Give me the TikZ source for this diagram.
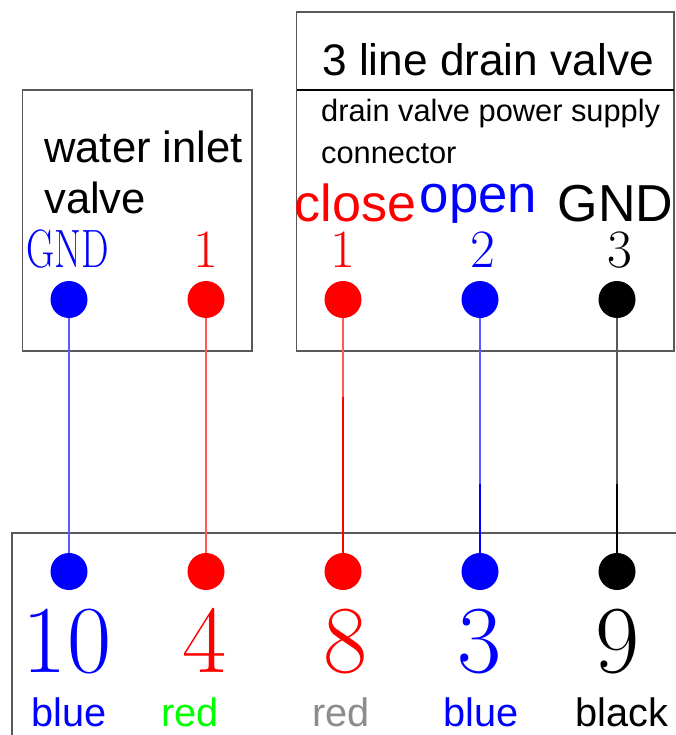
\documentclass[tikz,border=0pt]{standalone}
\usepackage{fontspec}
\setmainfont{Liberation Sans}
\newfontfamily\serifnum{Latin Modern Roman}
\definecolor{wblue}{rgb}{0,0,1}
\definecolor{wred}{rgb}{1,0,0}
\begin{document}
\begin{tikzpicture}[x=1pt,y=-1pt,
  boxline/.style={draw=black!65,line width=1.1pt},
  dot/.style={circle,fill=#1,draw=none,minimum size=37pt,inner sep=0pt},
  wire/.style={draw=#1,line width=1.2pt},
  thinwire/.style={draw=#1!65!white,line width=1.2pt},
  lab/.style={inner sep=0pt,anchor=base west,text=#1},
  pin/.style={inner sep=0pt,anchor=base,text=#1},
]
\useasboundingbox (0,0) rectangle (675,735);
\fill[white] (0,0) rectangle (675,735);
\draw[boxline] (22.5,90) rectangle (252,351);
\draw[boxline] (296.5,12) rectangle (674,351);
\draw[boxline,draw=black] (296.5,90) -- (674,90);
\draw[boxline] (12,740) -- (12,533) -- (680,533);
\node[dot=blue] (a1) at (69,299.5) {};
\node[dot=red] (a2) at (206,299.5) {};
\node[dot=red] (a3) at (343,299.5) {};
\node[dot=blue] (a4) at (480,299.5) {};
\node[dot=black] (a5) at (617,299.5) {};
\node[dot=blue] (b1) at (69,571.5) {};
\node[dot=red] (b2) at (206,571.5) {};
\node[dot=red] (b3) at (343,571.5) {};
\node[dot=blue] (b4) at (480,571.5) {};
\node[dot=black] (b5) at (617,571.5) {};
\coordinate (m3) at (343,397);
\coordinate (m4) at (480,484);
\coordinate (m5) at (617,484);
\draw[thinwire=wblue] (a1) -- (b1);
\draw[thinwire=wred] (a2) -- (b2);
\draw[thinwire=wred] (a3) -- (m3);
\draw[wire=wred] (m3) -- (b3);
\draw[thinwire=wblue] (a4) -- (m4);
\draw[wire=wblue] (m4) -- (b4);
\draw[thinwire=black] (a5) -- (m5);
\draw[wire=black] (m5) -- (b5);
\node[lab=black,font=\fontsize{44.2}{44}\selectfont] at (322,76) {3 line drain valve};
\node[lab=black,font=\fontsize{30.8}{30}\selectfont] at (321,121.5) {drain valve power supply};
\node[lab=black,font=\fontsize{30.8}{30}\selectfont] at (321,163.5) {connector};
\node[lab=black,font=\fontsize{43.6}{43}\selectfont] at (44,162.5) {water inlet};
\node[lab=black,font=\fontsize{43.6}{43}\selectfont] at (44,213.5) {valve};
\node[pin=red,font=\fontsize{52}{52}\selectfont] at (355.5,221.5) {close};
\node[pin=blue,font=\fontsize{52.7}{52}\selectfont] at (478.5,212.5) {open};
\node[pin=black,font=\fontsize{52}{52}\selectfont] at (615.5,221.5) {GND};
\foreach \x/\t/\c/\s in {67.5/GND/blue/.72,205.5/1/red/1,342.5/1/red/1,482.5/2/blue/1,619.5/3/black/1}
  \node[pin=\c,font=\serifnum\fontsize{54}{54}\selectfont] at (\x,267) {\scalebox{\s}[1]{\t}};
\foreach \x/\t/\c in {67/10/blue,204.5/4/red,346/8/red,480/3/blue,618/9/black}
  \node[pin=\c,font=\serifnum\fontsize{96}{96}\selectfont] at (\x,672) {\t};
\foreach \x/\t/\c in {69/blue/blue,190/red/green,341/red/black!45,481/blue/blue,622/black/black}
  \node[pin=\c,font=\fontsize{39.7}{39}\selectfont] at (\x,726.5) {\t};
\end{tikzpicture}
\end{document}
